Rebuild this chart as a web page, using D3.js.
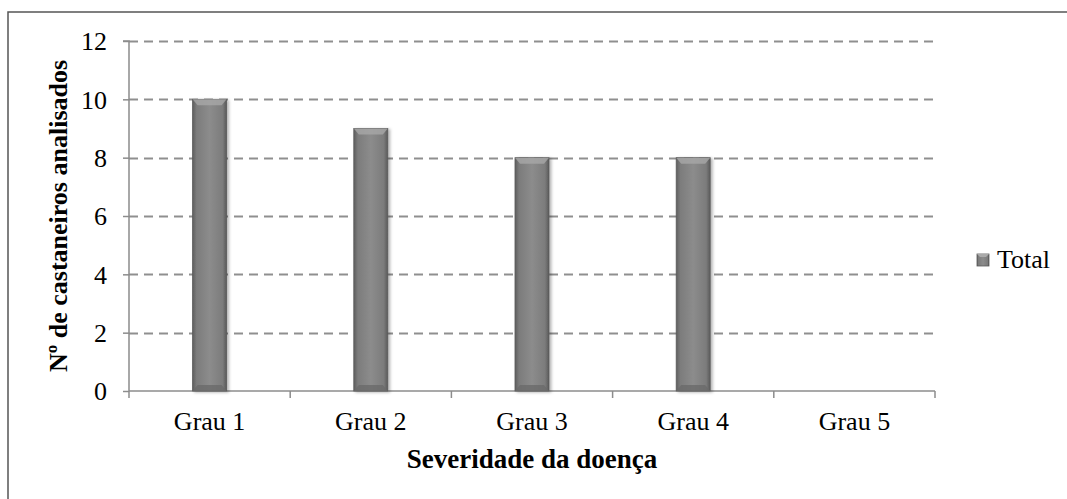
<!DOCTYPE html>
<html><head><meta charset="utf-8">
<script src="https://cdn.jsdelivr.net/npm/d3@7"></script>
<style>body{margin:0;background:#fff}svg{display:block}text{font-family:"Liberation Serif","Times New Roman",serif}</style>
</head><body>
<svg id="c" width="1067" height="499"></svg>
<script>
const categories = ["Grau 1","Grau 2","Grau 3","Grau 4","Grau 5"];
const totals = [10, 9, 8, 8, 0];
const yTicks = [0, 2, 4, 6, 8, 10, 12];
const seriesName = "Total";
const xTitle = "Severidade da doença";
const yTitle = "Nº de castaneiros analisados";

const svg = d3.select("#c");
const m = {l:129, r:935, t:41, b:391};
const x = d3.scaleBand().domain(categories).range([m.l, m.r]);
const y = d3.scaleLinear().domain([0, 12]).range([m.b, m.t]);

const defs = svg.append("defs");
const g = defs.append("linearGradient").attr("id","bg").attr("x1","0").attr("x2","1").attr("y1","0").attr("y2","0");
g.append("stop").attr("offset","0").attr("stop-color","#5e5e5e");
g.append("stop").attr("offset","0.12").attr("stop-color","#7c7c7c");
g.append("stop").attr("offset","0.5").attr("stop-color","#8c8c8c");
g.append("stop").attr("offset","0.88").attr("stop-color","#7c7c7c");
g.append("stop").attr("offset","1").attr("stop-color","#5a5a5a");
const f = defs.append("filter").attr("id","sh").attr("x","-30%").attr("y","-5%").attr("width","160%").attr("height","115%");
f.append("feDropShadow").attr("dx",2).attr("dy",1).attr("stdDeviation",1.5).attr("flood-color","#000").attr("flood-opacity",0.3);

// outer border (top & left visible)
svg.append("path").attr("d","M8,499 L8,12 L1067,12").attr("fill","none").attr("stroke","#555").attr("stroke-width",1.5);

// gridlines
svg.append("g").selectAll("line").data(yTicks.filter(d=>d>0)).join("line")
  .attr("x1",m.l).attr("x2",m.r).attr("y1",d=>Math.round(y(d))+0.5).attr("y2",d=>Math.round(y(d))+0.5)
  .attr("stroke","#8f8f8f").attr("stroke-width",2).attr("stroke-dasharray","9,6");

// y axis
const ya = svg.append("g").attr("transform",`translate(${m.l},0)`)
  .call(d3.axisLeft(y).tickValues(yTicks).tickSize(6).tickPadding(16).tickFormat(d3.format("d")));
ya.attr("font-family",null);
ya.select(".domain").attr("stroke","#8c8c8c").attr("stroke-width",1.5).attr("d",`M-6,${m.t}H0V${m.b}`);
ya.selectAll(".tick line").attr("stroke","#8c8c8c").attr("stroke-width",1.5);
ya.selectAll(".tick text").attr("font-size",26).attr("fill","#000").attr("dy","0.34em");

// x axis
const xa = svg.append("g").attr("transform",`translate(0,${m.b})`)
  .call(d3.axisBottom(x).tickSize(0).tickPadding(21));
xa.attr("font-family",null);
xa.select(".domain").attr("stroke","#8c8c8c").attr("stroke-width",1.5).attr("d",`M${m.l},0H${m.r}`);
xa.selectAll(".tick text").attr("font-size",26).attr("fill","#000");
const bounds = categories.map(c=>x(c)).concat([m.r]);
xa.selectAll("line.sep").data(bounds).join("line").attr("class","sep")
  .attr("x1",d=>d).attr("x2",d=>d).attr("y1",0).attr("y2",7).attr("stroke","#8c8c8c").attr("stroke-width",1.5);

// bars
const bw = 34;
const bars = svg.append("g").selectAll("g").data(categories.map((c,i)=>({c,v:totals[i]})).filter(d=>d.v>0)).join("g");
bars.append("rect").attr("x",d=>x(d.c)+x.bandwidth()/2-bw/2).attr("y",d=>y(d.v)).attr("width",bw)
  .attr("height",d=>y(0)-y(d.v)).attr("fill","url(#bg)").attr("filter","url(#sh)").attr("stroke","#5a5a5a").attr("stroke-width",0.8);
bars.append("path").attr("d",d=>{const x0=x(d.c)+x.bandwidth()/2-bw/2, y0=y(d.v);return `M${x0},${y0}H${x0+bw}L${x0+bw-5},${y0+6}H${x0+5}Z`;})
  .attr("fill","#a8a8a8").attr("opacity",0.8);
bars.append("path").attr("d",d=>{const x0=x(d.c)+x.bandwidth()/2-bw/2, y0=y(0);return `M${x0},${y0}H${x0+bw}L${x0+bw-5},${y0-6}H${x0+5}Z`;})
  .attr("fill","#6a6a6a").attr("opacity",0.8);

// legend
const lg = svg.append("g").attr("transform","translate(977,254)");
lg.append("rect").attr("width",12).attr("height",12).attr("fill","url(#bg)").attr("stroke","#5a5a5a").attr("stroke-width",0.8);
lg.append("path").attr("d","M0,0H12L9,3H3Z").attr("fill","#aaa");
lg.append("text").attr("x",20).attr("y",14).attr("font-size",26).text(seriesName);

// titles
svg.append("text").attr("x",(m.l+m.r)/2).attr("y",468).attr("text-anchor","middle")
  .attr("font-size",27).attr("font-weight","bold").text(xTitle);
svg.append("text").attr("transform",`translate(67,${(m.t+m.b)/2}) rotate(-90)`).attr("text-anchor","middle")
  .attr("font-size",26).attr("font-weight","bold").text(yTitle);
</script>
</body></html>
